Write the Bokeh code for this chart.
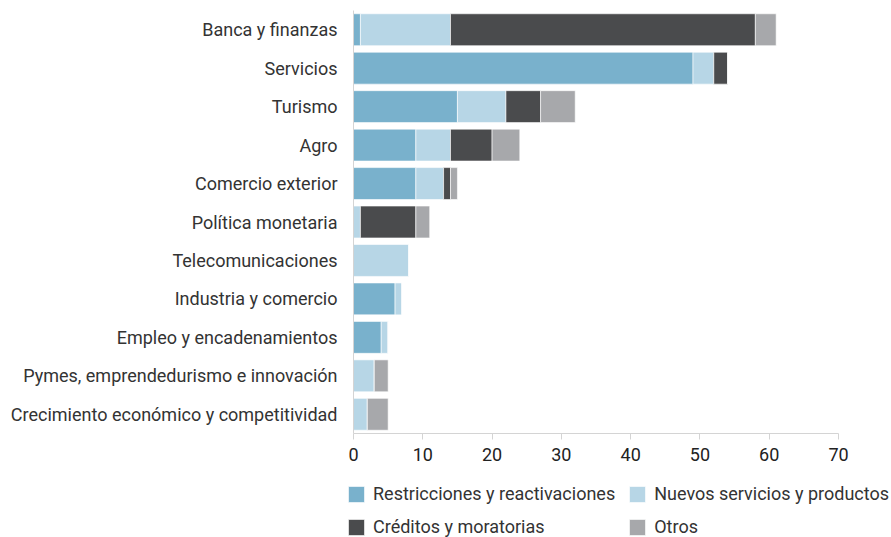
from bokeh.plotting import figure
from bokeh.models import Range1d, Legend, LegendItem, FixedTicker
from bokeh.embed import file_html
from bokeh.resources import INLINE

categories = [
    "Banca y finanzas",
    "Servicios",
    "Turismo",
    "Agro",
    "Comercio exterior",
    "Política monetaria",
    "Telecomunicaciones",
    "Industria y comercio",
    "Empleo y encadenamientos",
    "Pymes, emprendedurismo e innovación",
    "Crecimiento económico y competitividad",
]
restricciones = [1, 49, 15, 9, 9, 0, 0, 6, 4, 0, 0]
nuevos = [13, 3, 7, 5, 4, 1, 8, 1, 1, 3, 2]
creditos = [44, 2, 5, 6, 1, 8, 0, 0, 0, 0, 0]
otros = [3, 0, 5, 4, 1, 2, 0, 0, 0, 2, 3]
series_names = ["Restricciones y reactivaciones", "Nuevos servicios y productos",
                "Créditos y moratorias", "Otros"]
colors = ["#79b1cc", "#b7d6e6", "#4a4b4d", "#a7a8ab"]
x_ticks = [0, 10, 20, 30, 40, 50, 60, 70]

FONT = "Roboto"
n = len(categories)
ypos = [n - 1 - i for i in range(n)]  # first category on top
data = dict(y=ypos, s0=restricciones, s1=nuevos, s2=creditos, s3=otros)

W, H = 891, 537
px_per_x = 485 / 70.0
px_per_y = 423 / 11.0
x0_px, top_px, axis_px = 353, 10, 433

p = figure(frame_width=W, frame_height=H, output_backend="svg", toolbar_location=None,
           min_border_left=0, min_border_right=0, min_border_top=0, min_border_bottom=0,
           x_range=Range1d(-x0_px / px_per_x, (W - x0_px) / px_per_x),
           y_range=Range1d(-0.5 - (H - axis_px) / px_per_y, n - 0.5 + top_px / px_per_y))

renderers = p.hbar_stack(["s0", "s1", "s2", "s3"], y="y", height=0.83, color=colors,
                         line_color="white", line_alpha=0.6, line_width=1, source=data)

p.outline_line_color = None
p.xgrid.grid_line_color = None
p.ygrid.grid_line_color = None

p.xaxis.fixed_location = -0.5
p.xaxis.bounds = (0, 70)
p.xaxis.ticker = FixedTicker(ticks=x_ticks)
p.xaxis.axis_line_color = "#d4d4d4"
p.xaxis.major_tick_line_color = "#d4d4d4"
p.xaxis.major_tick_out = 6
p.xaxis.major_tick_in = 0
p.xaxis.minor_tick_line_color = None
p.xaxis.major_label_text_font = FONT
p.xaxis.major_label_text_font_size = "18px"
p.xaxis.major_label_text_color = "#222222"
p.xaxis.major_label_standoff = 8

p.yaxis.fixed_location = 0
p.yaxis.bounds = (-0.5, n - 0.5)
p.yaxis.ticker = FixedTicker(ticks=ypos)
p.yaxis.major_label_overrides = {y: c for y, c in zip(ypos, categories)}
p.yaxis.axis_line_color = "#d4d4d4"
p.yaxis.major_tick_line_color = None
p.yaxis.major_tick_out = 0
p.yaxis.major_tick_in = 0
p.yaxis.minor_tick_line_color = None
p.yaxis.major_label_text_font = FONT
p.yaxis.major_label_text_font_size = "18px"
p.yaxis.major_label_text_color = "#333333"
p.yaxis.major_label_standoff = 16

items = [LegendItem(label=s, renderers=[r]) for s, r in zip(series_names, renderers)]
legend = Legend(items=items, ncols=2, orientation="horizontal")
legend.label_text_font = FONT
legend.label_text_font_size = "18px"
legend.label_text_color = "#333333"
legend.glyph_width = 20
legend.glyph_height = 20
legend.label_height = 20
legend.label_standoff = 7
legend.spacing = 12
legend.padding = 0
legend.margin = 0
legend.border_line_color = None
legend.background_fill_alpha = 0
legend.location = (346, 0)
p.add_layout(legend, "center")

open("out.html", "w").write(file_html(p, INLINE))
